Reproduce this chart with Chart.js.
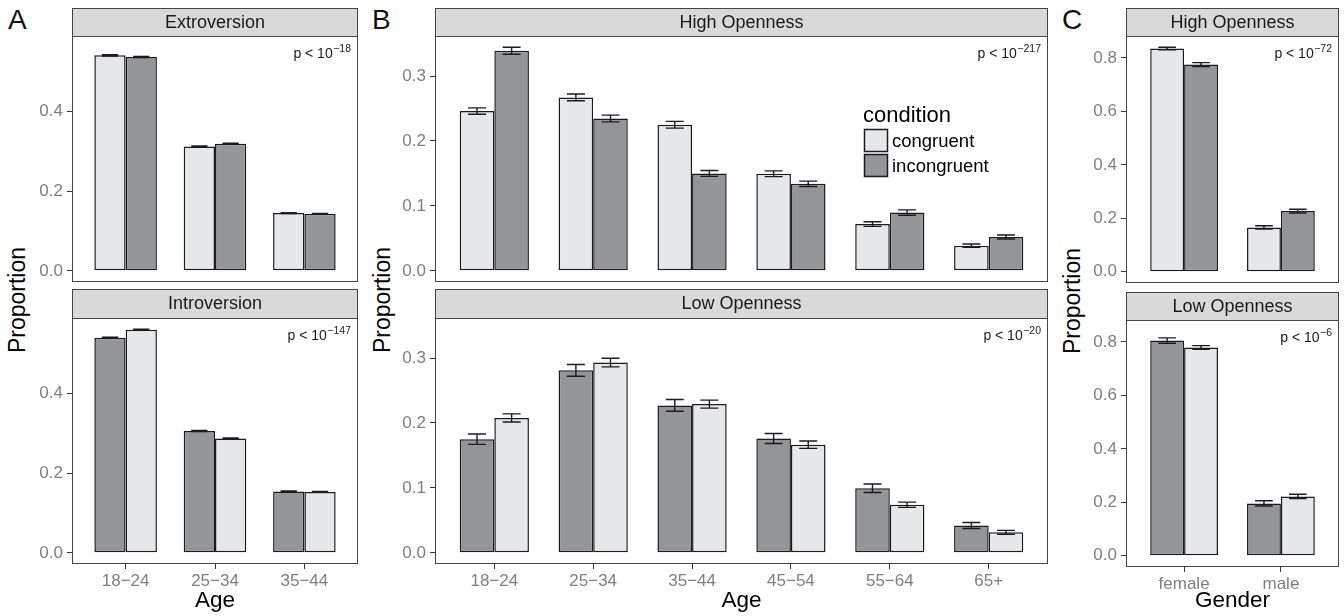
<!DOCTYPE html>
<html>
<head>
<meta charset="utf-8">
<script src="https://cdn.jsdelivr.net/npm/chart.js@4.4.0/dist/chart.umd.min.js"></script>
<style>
  body { margin: 0; background: #fff; }
  #fig { position: relative; width: 1344px; height: 616px; overflow: hidden; font-family: 'Liberation Sans', Arial, sans-serif; }
  canvas { position: absolute; }
  .tag { position: absolute; font-size: 28px; line-height: 28px; color: #111; }
  .ytitle { position: absolute; width: 200px; height: 26px; font-size: 23px; line-height: 26px; text-align: center; color: #000; transform: rotate(-90deg); }
</style>
</head>
<body>
<div id="fig">
  <canvas id="aTop"></canvas>
  <canvas id="aBottom"></canvas>
  <canvas id="bTop"></canvas>
  <canvas id="bBottom"></canvas>
  <canvas id="cTop"></canvas>
  <canvas id="cBottom"></canvas>
  <div class="tag" style="left:8px;top:6px">A</div>
  <div class="tag" style="left:372px;top:6px">B</div>
  <div class="tag" style="left:1062px;top:6px">C</div>
  <div class="ytitle" style="left:-83px;top:287px">Proportion</div>
  <div class="ytitle" style="left:282px;top:287px">Proportion</div>
  <div class="ytitle" style="left:972px;top:288px">Proportion</div>
</div>
<script>
// categories
const agesA = ['18−24', '25−34', '35−44'];
const agesB = ['18−24', '25−34', '35−44', '45−54', '55−64', '65+'];
const genders = ['female', 'male'];

// A: extroversion / introversion by age
const extroCongruent = [0.541, 0.312, 0.145];
const extroCongruentErr = [0.0015, 0.0015, 0.0012];
const extroIncongruent = [0.537, 0.319, 0.143];
const extroIncongruentErr = [0.0015, 0.0015, 0.0012];
const introIncongruent = [0.540, 0.306, 0.154];
const introIncongruentErr = [0.0015, 0.0015, 0.0012];
const introCongruent = [0.560, 0.287, 0.153];
const introCongruentErr = [0.0015, 0.0015, 0.0012];

// B: openness by age
const highOpenCongruent = [0.246, 0.267, 0.225, 0.1495, 0.072, 0.0387];
const highOpenCongruentErr = [0.0049, 0.0052, 0.0052, 0.0044, 0.0036, 0.0026];
const highOpenIncongruent = [0.339, 0.2345, 0.150, 0.134, 0.0897, 0.052];
const highOpenIncongruentErr = [0.0054, 0.0052, 0.0046, 0.0041, 0.0041, 0.0031];
const lowOpenIncongruent = [0.175, 0.281, 0.227, 0.176, 0.0995, 0.042];
const lowOpenIncongruentErr = [0.008, 0.009, 0.009, 0.0077, 0.0065, 0.0046];
const lowOpenCongruent = [0.2077, 0.293, 0.229, 0.1665, 0.074, 0.0315];
const lowOpenCongruentErr = [0.0062, 0.0067, 0.0062, 0.0057, 0.004, 0.003];

// C: openness by gender
const genHighCongruent = [0.835, 0.166];
const genHighCongruentErr = [0.005, 0.006];
const genHighIncongruent = [0.775, 0.227];
const genHighIncongruentErr = [0.0075, 0.007];
const genLowIncongruent = [0.805, 0.196];
const genLowIncongruentErr = [0.010, 0.010];
const genLowCongruent = [0.779, 0.222];
const genLowCongruentErr = [0.007, 0.008];

// tick labels
const ticksA = [0, 0.2, 0.4];
const ticksB = [0, 0.1, 0.2, 0.3];
const ticksC = [0, 0.2, 0.4, 0.6, 0.8];

// p-value exponents
const pExpA = ['−18', '−147'];
const pExpB = ['−217', '−20'];
const pExpC = ['−72', '−6'];

const LIGHT = '#e6e7e8';
const DARK = '#939598';
const INK = '#1e1b1c';
const FONT = "'Liberation Sans', Arial, sans-serif";
Chart.defaults.font.family = FONT;

function series(label, data, err) {
    return { label: label, data: data, err: err, color: label === 'congruent' ? LIGHT : DARK };
}

// shared y range for a facet column, ggplot style 5% expansion
function yLimits(panels) {
    let top = 0;
    panels.forEach(p => p.forEach(s => s.data.forEach((v, i) => {
        top = Math.max(top, v + s.err[i]);
    })));
    const pad = top * 0.05;
    return [-pad, top + pad];
}

const panelDecor = {
    id: 'panelDecor',
    afterDatasetsDraw(chart, args, opts) {
        const ctx = chart.ctx;
        const yScale = chart.scales.y;
        ctx.save();
        ctx.strokeStyle = INK;
        ctx.lineWidth = 1.4;
        chart.data.datasets.forEach((ds, di) => {
            chart.getDatasetMeta(di).data.forEach((bar, i) => {
                const v = ds.data[i].y, e = ds.err[i];
                const y1 = yScale.getPixelForValue(v - e);
                const y2 = yScale.getPixelForValue(v + e);
                const half = bar.width * 0.26;
                ctx.beginPath();
                ctx.moveTo(bar.x, y1); ctx.lineTo(bar.x, y2);
                ctx.moveTo(bar.x - half, y1); ctx.lineTo(bar.x + half, y1);
                ctx.moveTo(bar.x - half, y2); ctx.lineTo(bar.x + half, y2);
                ctx.stroke();
            });
        });
        ctx.restore();
    },
    afterDraw(chart, args, opts) {
        const ctx = chart.ctx;
        const a = chart.chartArea;
        ctx.save();
        // panel border
        ctx.strokeStyle = '#444';
        ctx.lineWidth = 1;
        ctx.strokeRect(a.left + 0.5, a.top + 0.5, a.right - a.left - 1, a.bottom - a.top - 1);
        // strip
        const sh = opts.stripH;
        ctx.fillStyle = '#d9d9d9';
        ctx.fillRect(a.left + 0.5, a.top - sh + 0.5, a.right - a.left - 1, sh);
        ctx.strokeRect(a.left + 0.5, a.top - sh + 0.5, a.right - a.left - 1, sh);
        ctx.fillStyle = '#1a1a1a';
        ctx.font = '18px ' + FONT;
        ctx.textAlign = 'center';
        ctx.textBaseline = 'middle';
        ctx.fillText(opts.strip, (a.left + a.right) / 2, a.top - sh / 2 + 1);
        // p value
        ctx.textBaseline = 'alphabetic';
        ctx.textAlign = 'right';
        const right = a.right - 7;
        ctx.font = '10.5px ' + FONT;
        const supW = ctx.measureText(opts.pExp).width;
        ctx.fillText(opts.pExp, right, a.top + 16);
        ctx.font = '14px ' + FONT;
        ctx.fillText('p < 10', right - supW - 0.5, a.top + 22);
        // legend
        if (opts.legend) {
            const lx = a.right - 184;
            ctx.textAlign = 'left';
            ctx.fillStyle = '#000';
            ctx.font = '22px ' + FONT;
            ctx.fillText('condition', lx - 1, a.top + 86);
            chart.data.datasets.forEach((ds, i) => {
                const ky = a.top + 93 + i * 25;
                ctx.fillStyle = ds.backgroundColor;
                ctx.fillRect(lx, ky, 24, 23);
                ctx.strokeStyle = INK;
                ctx.lineWidth = 1.5;
                ctx.strokeRect(lx + 0.5, ky + 0.5, 23, 22);
                ctx.fillStyle = '#000';
                ctx.font = '18.5px ' + FONT;
                ctx.fillText(ds.label, lx + 28, ky + 18);
            });
        }
        ctx.restore();
    }
};

function drawPanel(id, box, cats, list, yTicks, lim, strip, pExp, xTitle, legend) {
    const cv = document.getElementById(id);
    const xAxisH = xTitle ? box.xAxisH : 0;
    cv.width = box.yAxisW + box.w + 2;
    cv.height = box.stripH + box.h + (xTitle ? xAxisH : 1);
    cv.style.left = (box.x - box.yAxisW) + 'px';
    cv.style.top = (box.y - box.stripH) + 'px';
    const tickGrid = { display: true, drawOnChartArea: false, drawTicks: true, tickLength: 5, color: '#333', lineWidth: 1, offset: false };
    return new Chart(cv, {
        type: 'bar',
        data: {
            datasets: list.map(s => ({
                label: s.label,
                data: s.data.map((v, i) => ({ x: i, y: v })),
                err: s.err,
                backgroundColor: s.color,
                borderColor: INK,
                borderWidth: 1.5,
                borderSkipped: false,
                categoryPercentage: 0.7,
                barPercentage: 1
            }))
        },
        options: {
            responsive: false,
            animation: false,
            layout: { padding: { left: 0, right: 2, top: box.stripH, bottom: xTitle ? 0 : 1 } },
            plugins: {
                legend: { display: false },
                tooltip: { enabled: false },
                panelDecor: { strip: strip, pExp: pExp, stripH: box.stripH, legend: legend }
            },
            scales: {
                x: {
                    type: 'linear',
                    min: -0.6,
                    max: cats.length - 0.4,
                    offset: false,
                    display: !!xTitle,
                    afterBuildTicks: s => { s.ticks = cats.map((c, i) => ({ value: i })); },
                    afterFit: s => { s.height = xAxisH; s.paddingLeft = 0; s.paddingRight = 0; },
                    grid: tickGrid,
                    border: { display: false },
                    ticks: {
                        callback: v => cats[Math.round(v)],
                        color: '#7f7f7f',
                        font: { size: 17 },
                        padding: 2,
                        maxRotation: 0,
                        autoSkip: false
                    },
                    title: {
                        display: !!xTitle,
                        text: xTitle,
                        color: '#000',
                        font: { size: 22.5 },
                        padding: { top: 0, bottom: 2 }
                    }
                },
                y: {
                    min: lim[0],
                    max: lim[1],
                    afterBuildTicks: s => { s.ticks = yTicks.map(v => ({ value: v })); },
                    afterFit: s => { s.width = box.yAxisW; s.paddingTop = 0; s.paddingBottom = 0; },
                    grid: tickGrid,
                    border: { display: false },
                    ticks: {
                        callback: v => v.toFixed(1),
                        color: '#7f7f7f',
                        font: { size: 17 },
                        padding: 4
                    }
                }
            }
        },
        plugins: [panelDecor]
    });
}

// A
const aTopSeries = [series('congruent', extroCongruent, extroCongruentErr), series('incongruent', extroIncongruent, extroIncongruentErr)];
const aBottomSeries = [series('incongruent', introIncongruent, introIncongruentErr), series('congruent', introCongruent, introCongruentErr)];
const limA = yLimits([aTopSeries, aBottomSeries]);
drawPanel('aTop', { x: 72, y: 36, w: 286, h: 246, stripH: 28, yAxisW: 40 }, agesA, aTopSeries, ticksA, limA, 'Extroversion', pExpA[0], null, false);
drawPanel('aBottom', { x: 72, y: 318, w: 286, h: 246, stripH: 29, yAxisW: 40, xAxisH: 52 }, agesA, aBottomSeries, ticksA, limA, 'Introversion', pExpA[1], 'Age', false);

// B
const bTopSeries = [series('congruent', highOpenCongruent, highOpenCongruentErr), series('incongruent', highOpenIncongruent, highOpenIncongruentErr)];
const bBottomSeries = [series('incongruent', lowOpenIncongruent, lowOpenIncongruentErr), series('congruent', lowOpenCongruent, lowOpenCongruentErr)];
const limB = yLimits([bTopSeries, bBottomSeries]);
drawPanel('bTop', { x: 435, y: 36, w: 613, h: 246, stripH: 28, yAxisW: 40 }, agesB, bTopSeries, ticksB, limB, 'High Openness', pExpB[0], null, true);
drawPanel('bBottom', { x: 435, y: 318, w: 613, h: 246, stripH: 29, yAxisW: 40, xAxisH: 52 }, agesB, bBottomSeries, ticksB, limB, 'Low Openness', pExpB[1], 'Age', false);

// C
const cTopSeries = [series('congruent', genHighCongruent, genHighCongruentErr), series('incongruent', genHighIncongruent, genHighIncongruentErr)];
const cBottomSeries = [series('incongruent', genLowIncongruent, genLowIncongruentErr), series('congruent', genLowCongruent, genLowCongruentErr)];
const limC = yLimits([cTopSeries, cBottomSeries]);
drawPanel('cTop', { x: 1126, y: 36, w: 213, h: 247, stripH: 28, yAxisW: 40 }, genders, cTopSeries, ticksC, limC, 'High Openness', pExpC[0], null, false);
drawPanel('cBottom', { x: 1126, y: 320, w: 213, h: 247, stripH: 28, yAxisW: 40, xAxisH: 49 }, genders, cBottomSeries, ticksC, limC, 'Low Openness', pExpC[1], 'Gender', false);
</script>
</body>
</html>
